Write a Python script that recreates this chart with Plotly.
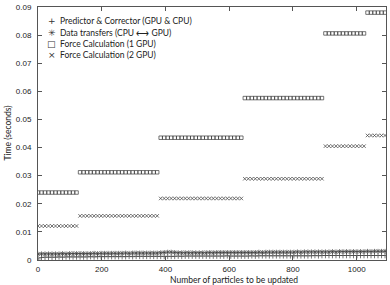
import plotly.graph_objects as go

# x positions (number of particles updated)
x_vals = list(range(0, 1090, 11))

# Force calculation, 1 GPU (seconds) - piecewise levels
force_1gpu = ([0.0240] * 12 + [0.0312] * 23 + [0.0435] * 24 +
              [0.0576] * 23 + [0.0806] * 12 + [0.0880] * 6)

# Force calculation, 2 GPU (seconds)
force_2gpu = ([0.0121] * 12 + [0.0157] * 23 + [0.0219] * 24 +
              [0.0289] * 23 + [0.0405] * 12 + [0.0443] * 6)

# Data transfers CPU <-> GPU (seconds)
data_transfer = [
    0.0021, 0.0022, 0.0022, 0.0022, 0.0022, 0.0022, 0.0022, 0.0023, 0.0022, 0.0023,
    0.0023, 0.0023, 0.0023, 0.0023, 0.0023, 0.0023, 0.0024, 0.0023, 0.0024, 0.0024,
    0.0024, 0.0024, 0.0024, 0.0024, 0.0024, 0.0025, 0.0024, 0.0025, 0.0025, 0.0025,
    0.0025, 0.0025, 0.0025, 0.0025, 0.0025, 0.0026, 0.0027, 0.0028, 0.0028, 0.0027,
    0.0026, 0.0026, 0.0026, 0.0026, 0.0026, 0.0026, 0.0026, 0.0026, 0.0026, 0.0027,
    0.0026, 0.0027, 0.0027, 0.0027, 0.0027, 0.0027, 0.0027, 0.0027, 0.0027, 0.0027,
    0.0027, 0.0027, 0.0027, 0.0028, 0.0027, 0.0028, 0.0028, 0.0028, 0.0028, 0.0028,
    0.0028, 0.0028, 0.0028, 0.0028, 0.0029, 0.0028, 0.0029, 0.0029, 0.0029, 0.0029,
    0.0029, 0.0029, 0.0029, 0.0029, 0.0030, 0.0029, 0.0030, 0.0030, 0.0030, 0.0030,
    0.0030, 0.0030, 0.0030, 0.0030, 0.0031, 0.0030, 0.0031, 0.0031, 0.0031, 0.0031,
]

# Predictor & Corrector (seconds)
predictor = [
    0.0004, 0.0009, 0.0010, 0.0010, 0.0010, 0.0010, 0.0011, 0.0010, 0.0011, 0.0011,
    0.0011, 0.0011, 0.0011, 0.0011, 0.0011, 0.0012, 0.0011, 0.0012, 0.0012, 0.0012,
    0.0012, 0.0012, 0.0012, 0.0012, 0.0012, 0.0012, 0.0013, 0.0012, 0.0013, 0.0013,
    0.0013, 0.0013, 0.0013, 0.0013, 0.0013, 0.0013, 0.0013, 0.0013, 0.0013, 0.0013,
    0.0014, 0.0013, 0.0014, 0.0014, 0.0014, 0.0014, 0.0014, 0.0014, 0.0014, 0.0014,
    0.0014, 0.0014, 0.0014, 0.0014, 0.0015, 0.0014, 0.0014, 0.0014, 0.0014, 0.0014,
    0.0014, 0.0015, 0.0014, 0.0015, 0.0015, 0.0015, 0.0015, 0.0015, 0.0015, 0.0015,
    0.0015, 0.0015, 0.0015, 0.0015, 0.0015, 0.0015, 0.0015, 0.0015, 0.0015, 0.0016,
    0.0015, 0.0016, 0.0016, 0.0016, 0.0016, 0.0016, 0.0016, 0.0016, 0.0016, 0.0016,
    0.0016, 0.0016, 0.0016, 0.0016, 0.0016, 0.0016, 0.0016, 0.0016, 0.0016, 0.0016,
]

series_names = [
    "Predictor & Corrector (GPU & CPU)",
    "Data transfers (CPU ⟷ GPU)",
    "Force Calculation (1 GPU)",
    "Force Calculation (2 GPU)",
]
legend_glyphs = ["+", "✳", "□", "×"]

x_ticks = [0, 200, 400, 600, 800, 1000]
y_ticks = [0, 0.01, 0.02, 0.03, 0.04, 0.05, 0.06, 0.07, 0.08, 0.09]
y_tick_text = ["0", "0.01", "0.02", "0.03", "0.04", "0.05", "0.06", "0.07", "0.08", "0.09"]

ink = "#3a3a3a"
fig = go.Figure()

styles = [
    (predictor, "cross-thin-open", 4),
    (data_transfer, "asterisk-open", 4),
    (force_1gpu, "square-open", 3.5),
    (force_2gpu, "x-thin-open", 3.5),
]
for (vals, sym, sz), name in zip(styles, series_names):
    fig.add_trace(go.Scatter(
        x=x_vals, y=vals, mode="markers", name=name, showlegend=False,
        marker=dict(symbol=sym, size=sz, color=ink, line=dict(width=0.7, color=ink)),
        cliponaxis=True,
    ))

axis_common = dict(
    showline=True, linecolor="#555", linewidth=1, mirror="ticks",
    ticks="inside", ticklen=4, tickcolor="#555", showgrid=False, zeroline=False,
    tickfont=dict(family="Liberation Sans", size=8, color="#222"),
)

fig.update_xaxes(range=[0, 1092], tickvals=x_ticks, ticktext=[str(v) for v in x_ticks],
                 ticklabelstandoff=1, **axis_common)
fig.update_yaxes(range=[0, 0.09], tickvals=y_ticks, ticktext=y_tick_text,
                 ticklabelstandoff=4, **axis_common)

annotations = []
# custom compact legend (top-left inside)
for i, (g, name) in enumerate(zip(legend_glyphs, series_names)):
    ytop = 0.943 - i * 0.0445
    annotations.append(dict(xref="paper", yref="paper", x=0.04, y=ytop, text=g,
                            showarrow=False, xanchor="center", yanchor="middle",
                            font=dict(family="DejaVu Sans", size=9, color="#333")))
    annotations.append(dict(xref="paper", yref="paper", x=0.058, y=ytop, text=name,
                            showarrow=False, xanchor="left", yanchor="middle",
                            font=dict(family="Lato", size=8.5, color="#222")))

annotations.append(dict(xref="paper", yref="paper", x=0.0, y=-0.05,
                        xshift=196, text="Number of particles to be updated",
                        showarrow=False, xanchor="center", yanchor="top",
                        font=dict(family="Lato", size=8.5, color="#222")))
annotations.append(dict(xref="paper", yref="paper", x=0.0, xshift=-31, y=0.5,
                        text="Time (seconds)", textangle=-90,
                        showarrow=False, xanchor="center", yanchor="middle",
                        font=dict(family="Lato", size=8.5, color="#222")))

fig.update_layout(
    width=390, height=285,
    margin=dict(l=38, r=4, t=7, b=25),
    paper_bgcolor="white", plot_bgcolor="white",
    annotations=annotations,
    showlegend=False,
)

fig.write_html("out.html", config={"displayModeBar": False},
               post_script="document.body.style.margin='0';document.body.style.overflow='hidden';")
